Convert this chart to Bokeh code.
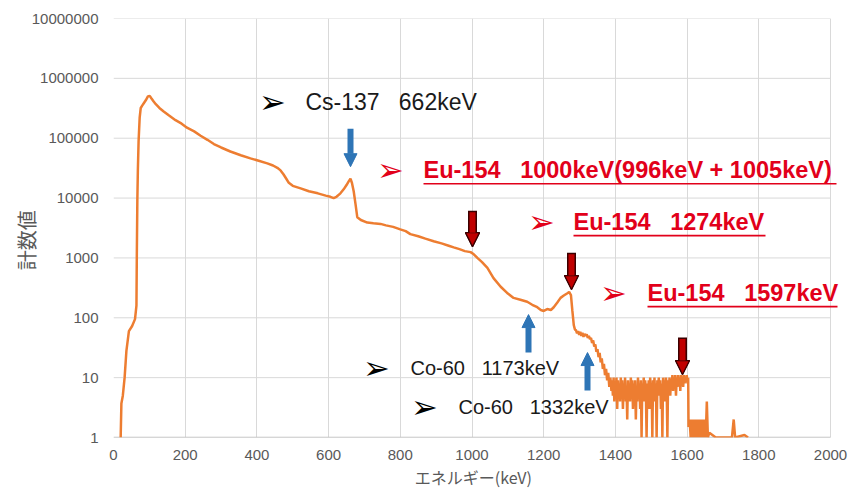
import math
from bokeh.plotting import figure
from bokeh.models import Range1d, FixedTicker, NumeralTickFormatter, Label, Arrow, NormalHead, ColumnDataSource
from bokeh.embed import file_html
from bokeh.resources import INLINE

# ---------------- data ----------------
energy_smooth = [20, 22, 26, 31, 36, 43, 52, 60, 64, 65, 66.5, 68, 70, 73, 76, 80, 84, 90, 96, 101,
                 106, 112, 118, 128, 140, 155, 173, 190, 205, 225, 243, 262, 280, 300, 326, 355, 382,
                 405, 429, 445, 457, 466, 474, 482, 489, 500, 522, 545, 570, 592, 605, 614, 622, 633,
                 642, 650, 656, 661, 665, 670, 675, 680, 690, 708, 725, 745, 760, 780, 800, 815, 828,
                 850, 870, 893, 915, 935, 949, 965, 980, 996, 1005, 1015, 1028, 1043, 1060, 1080, 1098,
                 1116, 1135, 1154, 1168, 1182, 1192, 1200, 1210, 1220, 1228, 1238, 1247, 1256, 1265,
                 1271, 1276, 1280, 1284, 1287]
counts_smooth = [1, 3.7, 5, 10, 28, 60, 73, 95, 160, 1000, 9000, 3e4, 9e4, 2.2e5, 3.2e5, 3.5e5, 3.8e5,
                 4.3e5, 5e5, 5.1e5, 4.6e5, 4.1e5, 3.7e5, 3.2e5, 2.8e5, 2.4e5, 2.0e5, 1.75e5, 1.5e5,
                 1.3e5, 1.1e5, 9.4e4, 8e4, 7e4, 6e4, 5.2e4, 4.6e4, 4.2e4, 3.8e4, 3.5e4, 3.2e4, 2.9e4,
                 2.5e4, 2.1e4, 1.8e4, 1.6e4, 1.45e4, 1.3e4, 1.2e4, 1.1e4, 1.05e4, 1e4, 1.05e4, 1.2e4,
                 1.4e4, 1.65e4, 1.9e4, 2.1e4, 1.8e4, 1.3e4, 8e3, 4.8e3, 4.3e3, 3.9e3, 3.8e3, 3.7e3,
                 3.5e3, 3.3e3, 3.0e3, 2.8e3, 2.5e3, 2.3e3, 2.1e3, 1.9e3, 1.75e3, 1.6e3, 1.5e3, 1.4e3,
                 1.3e3, 1.25e3, 1.15e3, 1e3, 850, 680, 460, 330, 260, 215, 200, 185, 165, 150, 135, 130,
                 140, 135, 150, 180, 215, 235, 255, 270, 240, 130, 75, 64]
energy_shoulder = [1290, 1293, 1296, 1299, 1302, 1305, 1308, 1311, 1314, 1317, 1320, 1323, 1326, 1329,
                   1332, 1335, 1338, 1341, 1344, 1347, 1350, 1353, 1356, 1359, 1362, 1365, 1368, 1371,
                   1374, 1377, 1380, 1383, 1386, 1389]
counts_shoulder = [62, 55, 60, 52, 58, 50, 56, 48, 54, 50, 53, 46, 50, 44, 46, 38, 42, 33, 36, 27, 30,
                   22, 26, 18, 21, 14, 17, 11, 14, 9, 12, 7, 10, 6]
energy_noisy = [1391, 1393, 1395, 1397, 1399, 1401, 1403, 1405, 1407, 1409, 1411, 1413, 1415, 1417,
                1419, 1421, 1423, 1425, 1427, 1429, 1431, 1433, 1435, 1437, 1439, 1441, 1443, 1445,
                1447, 1449, 1451, 1453, 1455, 1457, 1459, 1461, 1463, 1465, 1467, 1469, 1471, 1473,
                1475, 1477, 1479, 1481, 1483, 1485, 1487, 1489, 1491, 1493, 1495, 1497, 1499, 1501,
                1503, 1505, 1507, 1509, 1511, 1513, 1515, 1517, 1519, 1521, 1523, 1525, 1527, 1529,
                1531, 1533, 1535, 1537, 1539, 1541, 1543, 1545, 1547, 1549, 1551, 1553, 1555, 1557,
                1559, 1561, 1563, 1565, 1567, 1569, 1571, 1573, 1575, 1577, 1579, 1581, 1583, 1585,
                1587, 1589, 1591, 1593, 1595, 1597, 1599, 1601, 1603]
counts_noisy = [9, 5, 10, 4, 8, 6, 10, 3, 9, 5, 8, 4, 10, 6, 9, 3, 8, 5, 10, 4, 7, 2, 9, 5, 8, 4, 10,
                6, 9, 3, 8, 5, 9, 2, 7, 4, 10, 5, 8, 3, 9, 1, 8, 5, 10, 4, 9, 6, 1, 8, 5, 9, 3, 10, 6,
                8, 1, 9, 5, 10, 4, 8, 1, 9, 6, 10, 5, 9, 3, 8, 1, 10, 6, 9, 4, 10, 7, 1, 9, 6, 10, 5,
                9, 7, 11, 6, 10, 8, 11, 5, 10, 7, 11, 8, 10, 6, 11, 9, 10, 7, 11, 8, 10, 9, 11, 8, 10]
energy_tail = [1604, 1607, 1610, 1613, 1616, 1619, 1622, 1625, 1628, 1631, 1634, 1637, 1640, 1643,
               1646, 1649, 1652, 1655, 1658, 1662, 1680, 1725, 1730, 1734, 1760, 1770]
counts_tail = [1.5, 2, 1, 2, 1, 2, 1, 2, 1, 2, 1, 2, 1, 2, 1, 2, 1, 4, 1, 1.2, 1, 1, 2, 1, 1.1, 1]

energy = energy_smooth + energy_shoulder + energy_noisy + energy_tail
counts = counts_smooth + counts_shoulder + counts_noisy + counts_tail

x_ticks = [0, 200, 400, 600, 800, 1000, 1200, 1400, 1600, 1800, 2000]
y_ticks = [1, 10, 100, 1000, 10000, 100000, 1000000, 10000000]

# ---------------- layout helpers (page pixel -> data) ----------------
def kx(px):
    return (px - 113) * 2000.0 / 717.0

def vy(py):
    return 10 ** ((437 - py) / 59.9)

GRAY = "#595959"
RED = "#E2001A"
BLUE = "#2E75B6"
SP = "\u00a0"

p = figure(width=852, height=491, output_backend="svg", toolbar_location=None,
           y_axis_type="log", x_range=Range1d(0, kx(840)), y_range=Range1d(1, 1e7),
           min_border_left=113, min_border_right=12, min_border_top=18, min_border_bottom=54)
p.outline_line_color = None
p.background_fill_color = "white"
p.border_fill_color = "white"

p.xaxis.ticker = FixedTicker(ticks=x_ticks)
p.yaxis.ticker = FixedTicker(ticks=y_ticks)
p.xgrid.ticker = FixedTicker(ticks=x_ticks)
p.xgrid.grid_line_color = "#D9D9D9"
p.ygrid.visible = False
p.yaxis.formatter = NumeralTickFormatter(format="0")
for ax in (p.xaxis, p.yaxis):
    ax.major_tick_out = 0
    ax.major_tick_in = 0
    ax.minor_tick_out = 0
    ax.minor_tick_in = 0
    ax.major_label_text_color = GRAY
    ax.major_label_text_font = "Liberation Sans"
    ax.major_label_text_font_size = "15px"
    ax.axis_line_color = None
    ax.axis_label_text_font = "Noto Sans CJK JP"
    ax.axis_label_text_font_style = "normal"
    ax.axis_label_text_color = GRAY
p.yaxis.major_label_standoff = 15
p.xaxis.major_label_standoff = 12
p.xaxis.axis_label = "エネルギー(keV)" + SP + SP
p.xaxis.axis_label_text_font_size = "16px"
p.xaxis.axis_label_standoff = 2
p.yaxis.axis_label = "計数値\u3000" + SP
p.yaxis.axis_label_text_font_size = "20px"
p.yaxis.axis_label_standoff = -12

# horizontal grid lines, only across 0..2000 keV
p.segment(x0=[x_ticks[0]] * len(y_ticks), x1=[x_ticks[-1]] * len(y_ticks), y0=y_ticks, y1=y_ticks,
          line_color="#D9D9D9", line_width=1)
p.segment(x0=[x_ticks[0]], x1=[x_ticks[-1]], y0=[y_ticks[0]], y1=[y_ticks[0]],
          line_color="#BFBFBF", line_width=1.5)

src = ColumnDataSource(dict(x=energy, y=counts))
p.line("x", "y", source=src, line_color="#ED7D31", line_width=2.5)

# ---------------- annotations ----------------
def bullet(px, py, color):
    p.add_layout(Label(x=kx(px), y=vy(py), text="➢", text_align="center", text_baseline="middle",
                       text_font="DejaVu Sans", text_font_size="32px", text_color=color))

def note(px, py, text, color, bold, size):
    p.add_layout(Label(x=kx(px), y=vy(py), text=text.replace(" ", SP), text_align="left",
                       text_baseline="middle", text_font="Liberation Sans", text_font_size=size,
                       text_color=color, text_font_style="bold" if bold else "normal"))

def underline(px0, px1, py, color):
    p.add_layout(Arrow(x_start=kx(px0), y_start=vy(py), x_end=kx(px1), y_end=vy(py),
                       start=None, end=None, line_color=color, line_width=1.6))

def blue_arrow(px, py0, py1):
    p.add_layout(Arrow(x_start=kx(px), y_start=vy(py0), x_end=kx(px), y_end=vy(py1),
                       line_color=BLUE, line_width=6,
                       end=NormalHead(size=13, fill_color=BLUE, line_color=BLUE, line_width=1)))

def red_arrow(px, py0, py1):
    p.add_layout(Arrow(x_start=kx(px), y_start=vy(py0), x_end=kx(px), y_end=vy(py1),
                       line_color="#3A0000", line_width=9,
                       end=NormalHead(size=14, fill_color="#C00000", line_color="#3A0000", line_width=1.2)))
    p.add_layout(Arrow(x_start=kx(px), y_start=vy(py0 + 1.5), x_end=kx(px), y_end=vy(py1),
                       line_color="#C00000", line_width=6,
                       end=NormalHead(size=14, fill_color="#C00000", line_color="#3A0000", line_width=1.2)))

bullet(272, 101, "black")
note(305, 101, "Cs-137   662keV", "#1A1A1A", False, "23px")
blue_arrow(350, 128, 166)

bullet(390, 169, RED)
note(423, 169, "Eu-154   1000keV(996keV + 1005keV)", RED, True, "23.5px")
underline(423, 836, 183, RED)
red_arrow(472, 210, 246)

bullet(541, 221, RED)
note(573, 221, "Eu-154   1274keV", RED, True, "23.5px")
underline(573, 765, 235, RED)
red_arrow(571, 252, 289)

bullet(613, 292, RED)
note(647, 292, "Eu-154   1597keV", RED, True, "23.5px")
underline(647, 837, 306, RED)
red_arrow(682, 337, 374)

blue_arrow(528, 352, 314)
blue_arrow(587, 390, 352)

bullet(376, 367, "black")
note(410, 367, "Co-60   1173keV", "#1A1A1A", False, "20px")
bullet(424, 406, "black")
note(458, 406, "Co-60   1332keV", "#1A1A1A", False, "20px")

open("out.html", "w").write(file_html(p, INLINE))
